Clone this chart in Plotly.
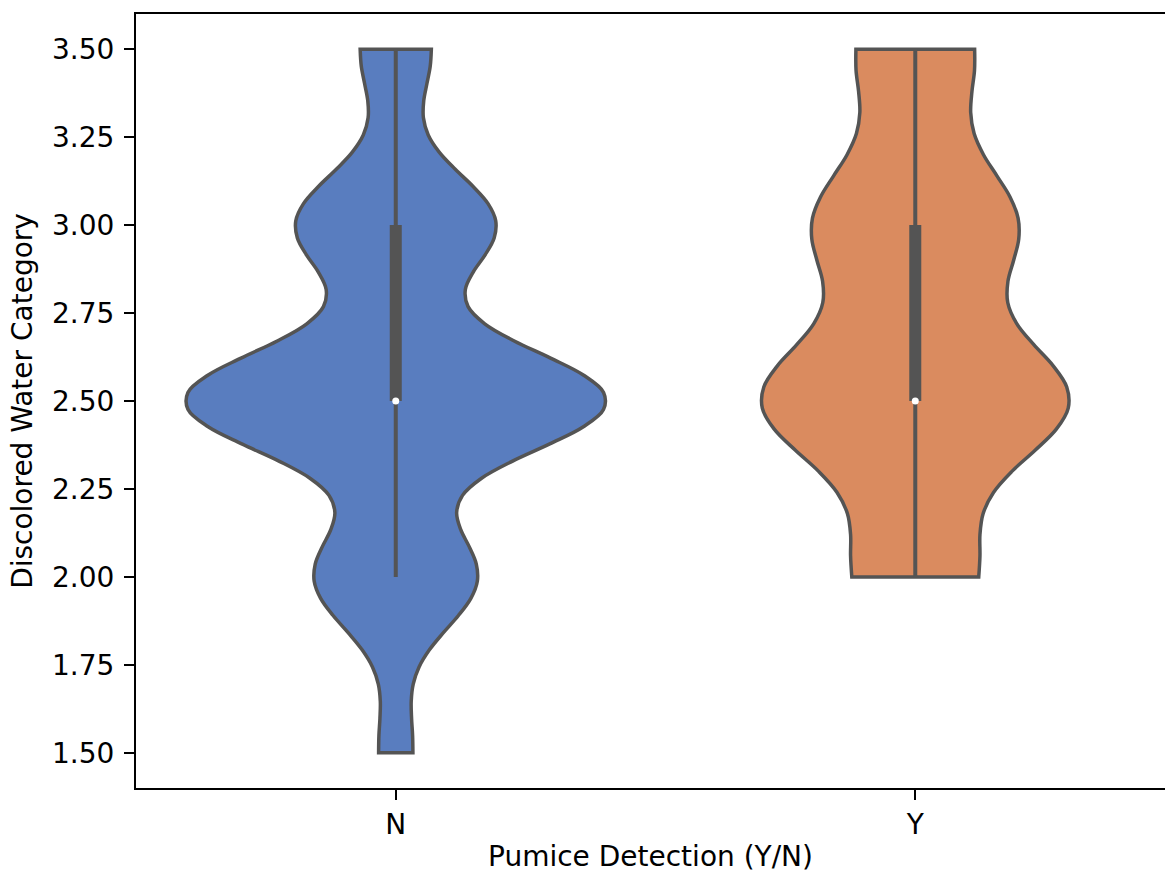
import numpy as np
import plotly.graph_objects as go

# Discolored water category observations, grouped by pumice detection
groups = ["N", "Y"]
levels_n = [1.5, 2.0, 2.5, 3.0, 3.5]
counts_n = [11, 53, 137, 65, 23]
levels_y = [2.0, 2.5, 3.0, 3.5]
counts_y = [20, 50, 33, 19]

fill_colors = {"N": "#597DBF", "Y": "#DA8B5F"}
edge_gray = "#545454"
font_family = "DejaVu Sans"

samples = {
    "N": np.repeat(levels_n, counts_n),
    "Y": np.repeat(levels_y, counts_y),
}


def scott_bandwidth(vals):
    return float(np.std(vals, ddof=1) * len(vals) ** (-1 / 5))


def inner_box(vals):
    q1, med, q3 = np.percentile(vals, [25, 50, 75])
    iqr = q3 - q1
    lo = vals[vals >= q1 - 1.5 * iqr].min()
    hi = vals[vals <= q3 + 1.5 * iqr].max()
    return q1, med, q3, lo, hi


fig = go.Figure()

for g in groups:
    vals = samples[g]
    fig.add_trace(go.Violin(
        x=[g] * len(vals),
        y=vals,
        name=g,
        scalegroup="pumice",
        scalemode="width",
        spanmode="hard",
        bandwidth=scott_bandwidth(vals),
        fillcolor=fill_colors[g],
        line=dict(color=edge_gray, width=3.5),
        points=False,
        box_visible=False,
        meanline_visible=False,
        showlegend=False,
        hoverinfo="skip",
    ))

for g in groups:
    q1, med, q3, lo, hi = inner_box(samples[g])
    # whisker
    fig.add_trace(go.Scatter(
        x=[g, g], y=[lo, hi], mode="lines",
        line=dict(color=edge_gray, width=4),
        showlegend=False, hoverinfo="skip",
    ))
    # interquartile bar
    fig.add_trace(go.Scatter(
        x=[g, g], y=[q1, q3], mode="lines",
        line=dict(color=edge_gray, width=12),
        showlegend=False, hoverinfo="skip",
    ))
    # median marker
    fig.add_trace(go.Scatter(
        x=[g], y=[med], mode="markers",
        marker=dict(color="white", size=7, line=dict(width=0)),
        showlegend=False, hoverinfo="skip",
    ))

axis_common = dict(
    showline=True, linecolor="black", linewidth=2,
    ticks="outside", ticklen=10, tickwidth=2, tickcolor="black",
    showgrid=False, zeroline=False,
    tickfont=dict(family=font_family, size=28, color="black"),
)

fig.update_layout(
    width=1165, height=873,
    margin=dict(l=136, r=0, t=14, b=85),
    paper_bgcolor="white", plot_bgcolor="white",
    violinmode="overlay", violingap=0.2, violingroupgap=0,
    font=dict(family=font_family, size=28, color="black"),
    xaxis=dict(
        axis_common,
        type="category",
        categoryorder="array", categoryarray=groups,
        range=[-0.5, 1.4807],
        mirror=True,
        title=dict(text="Pumice Detection (Y/N)",
                   font=dict(family=font_family, size=28, color="black"),
                   standoff=14),
    ),
    yaxis=dict(
        axis_common,
        range=[1.4, 3.6],
        tick0=1.5, dtick=0.25, tickformat=".2f",
        mirror=False,
        ticklabelstandoff=4,
        title=dict(text="Discolored Water Category",
                   font=dict(family=font_family, size=28, color="black"),
                   standoff=11),
    ),
)

fig.write_html("out.html")
